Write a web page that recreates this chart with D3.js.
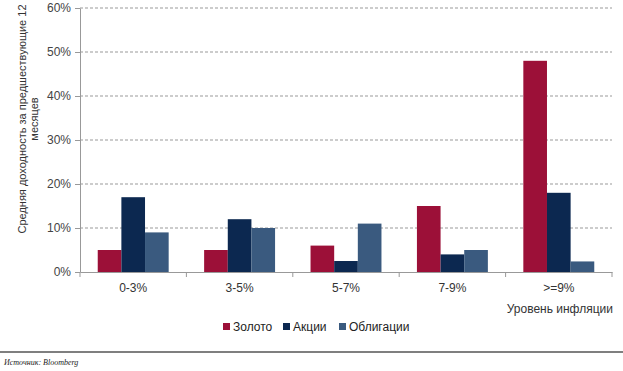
<!DOCTYPE html>
<html>
<head>
<meta charset="utf-8">
<script src="https://cdn.jsdelivr.net/npm/d3@7"></script>
<style>
  body { margin: 0; background: #fff; }
  text { font-family: "Liberation Sans", Arial, sans-serif; fill: #333; }
</style>
</head>
<body>
<svg id="chart" width="623" height="371"></svg>
<script>
const categories = ["0-3%", "3-5%", "5-7%", "7-9%", ">=9%"];
const seriesNames = ["Золото", "Акции", "Облигации"];
const gold = [5, 5, 6, 15, 48];
const stocks = [17, 12, 2.5, 4, 18];
const bonds = [9, 10, 11, 5, 2.4];
const yTicks = [0, 10, 20, 30, 40, 50, 60];
const colors = ["#9c1038", "#0c2850", "#3a5a7f"];

const seriesValues = [gold, stocks, bonds];
const rows = categories.map((c, i) => ({
  cat: c,
  vals: seriesNames.map((s, j) => ({ key: s, value: seriesValues[j][i], idx: j }))
}));

const svg = d3.select("#chart");
const plotLeft = 80, plotRight = 612, plotTop = 8, plotBottom = 272;

const x0 = d3.scaleBand().domain(categories).range([plotLeft, plotRight]).padding(0);
const x1 = d3.scaleBand().domain(seriesNames).range([0, x0.bandwidth()])
  .paddingInner(0).paddingOuter(0.75);
const y = d3.scaleLinear().domain([0, 60]).range([plotBottom, plotTop]);

// grid lines
svg.append("g")
  .selectAll("line")
  .data(yTicks.filter(d => d > 0))
  .enter().append("line")
  .attr("x1", plotLeft).attr("x2", plotRight)
  .attr("y1", d => y(d)).attr("y2", d => y(d))
  .attr("stroke", "#999")
  .attr("stroke-dasharray", "3,2")
  .attr("stroke-width", 1);

// bars
svg.append("g")
  .selectAll("g")
  .data(rows)
  .enter().append("g")
  .attr("transform", d => `translate(${x0(d.cat)},0)`)
  .selectAll("rect")
  .data(d => d.vals)
  .enter().append("rect")
  .attr("x", d => x1(d.key))
  .attr("y", d => y(d.value))
  .attr("width", x1.bandwidth())
  .attr("height", d => y(0) - y(d.value))
  .attr("fill", d => colors[d.idx]);

// y axis
const yAxis = d3.axisLeft(y).tickValues(yTicks).tickFormat(d => d + "%").tickSize(5).tickSizeOuter(0);
const gy = svg.append("g").attr("transform", `translate(${plotLeft},0)`).call(yAxis);
gy.select(".domain").attr("stroke", "#999");
gy.selectAll(".tick line").attr("stroke", "#999");
gy.selectAll(".tick text").attr("x", -9).style("font-size", "12px").style("fill", "#444");

// x axis
const xAxis = d3.axisBottom(x0).tickSize(0).tickSizeOuter(0);
const gx = svg.append("g").attr("transform", `translate(0,${plotBottom})`).call(xAxis);
gx.select(".domain").attr("stroke", "#999");
gx.selectAll(".tick text").attr("dy", "1.45em").style("font-size", "12px").style("fill", "#333");
const bounds = categories.map(c => x0(c)).concat([plotRight]);
gx.selectAll(".sep")
  .data(bounds)
  .enter().append("line")
  .attr("x1", d => d).attr("x2", d => d)
  .attr("y1", 0).attr("y2", 5)
  .attr("stroke", "#999");

// axis titles
svg.append("text")
  .attr("x", 613).attr("y", 313)
  .attr("text-anchor", "end")
  .style("font-size", "12px")
  .text("Уровень инфляции");

const yt = svg.append("text")
  .attr("transform", "translate(26,119) rotate(-90)")
  .attr("text-anchor", "middle")
  .style("font-size", "11px");
yt.append("tspan").attr("x", 0).attr("y", 0).text("Средняя доходность за предшествующие 12");
yt.append("tspan").attr("x", 0).attr("y", 12).text("месяцев");

// legend
const legendX = [223, 283, 339];
const lg = svg.append("g")
  .selectAll("g")
  .data(seriesNames)
  .enter().append("g")
  .attr("transform", (d, i) => `translate(${legendX[i]},331)`);
lg.append("rect").attr("x", 0).attr("y", -8).attr("width", 7).attr("height", 7)
  .attr("fill", (d, i) => colors[i]);
lg.append("text").attr("x", 10).attr("y", 0)
  .style("font-size", "12px").style("fill", "#222")
  .text(d => d);

// footer
svg.append("line")
  .attr("x1", 0).attr("x2", 623).attr("y1", 352).attr("y2", 352)
  .attr("stroke", "#555").attr("stroke-width", 1.5);
svg.append("text")
  .attr("x", 4).attr("y", 365)
  .style("font-family", "'Liberation Serif', 'Times New Roman', serif")
  .style("font-style", "italic")
  .style("font-size", "8px")
  .style("fill", "#222")
  .text("Источник: Bloomberg");
</script>
</body>
</html>
